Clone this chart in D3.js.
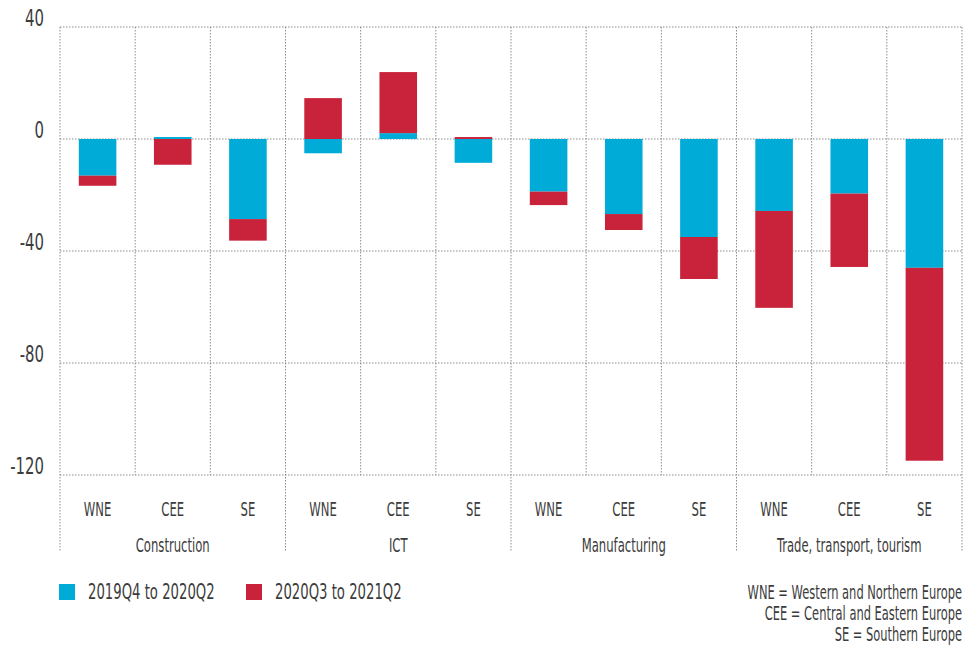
<!DOCTYPE html>
<html>
<head>
<meta charset="utf-8">
<title>Employment change by sector and region</title>
<script src="https://cdn.jsdelivr.net/npm/d3@7"></script>
<style>
  body { margin: 0; background: #fff; }
  svg { display: block; }
  text { font-family: "DejaVu Sans", sans-serif; font-stretch: condensed; fill: #3c3c3c; }
  .grid line { stroke: #8c8c8c; stroke-width: 1; stroke-dasharray: 1.5,1.5; }
</style>
</head>
<body>
<svg id="chart" width="963" height="645"></svg>
<script>
// sectors and regions
var sectors = ["Construction", "ICT", "Manufacturing", "Trade, transport, tourism"];
var regions = ["WNE", "CEE", "SE"];
var seriesNames = ["2019Q4 to 2020Q2", "2020Q3 to 2021Q2"];
var seriesColors = ["#00acd7", "#c8233a"];

// values per sector, in region order WNE, CEE, SE
var firstPeriod  = [-13.1, 0.7, -28.6,   -5.1, 2.1, -8.5,   -18.8, -26.8, -35.0,   -25.7, -19.5, -46.0];
var secondPeriod = [-3.6, -9.2, -7.7,    14.6, 21.8, 0.7,   -4.8, -5.7, -15.0,     -34.6, -26.2, -68.9];

var yTicks = [40, 0, -40, -80, -120];
var notes = ["WNE = Western and Northern Europe", "CEE = Central and Eastern Europe", "SE = Southern Europe"];

var svg = d3.select("#chart");
var plotL = 60, plotR = 962, plotT = 27, plotB = 475;

// the original uses a very narrow font, so squeeze the glyphs
function squeeze(sel, k) {
  sel.each(function() {
    var w = this.getComputedTextLength();
    d3.select(this).attr("textLength", w * k).attr("lengthAdjust", "spacingAndGlyphs");
  });
}

// build rows for stacking
var rows = [];
sectors.forEach(function(s, i) {
  regions.forEach(function(r, j) {
    var k = i * 3 + j;
    rows.push({sector: s, region: r, a: firstPeriod[k], b: secondPeriod[k]});
  });
});

var xGroup = d3.scaleBand().domain(sectors).range([plotL, plotR]);
var xInner = d3.scaleBand().domain(regions).range([0, xGroup.bandwidth()]).paddingInner(0.5).paddingOuter(0.25);
var y = d3.scaleLinear().domain([-120, 40]).range([plotB, plotT]);

// grid
var grid = svg.append("g").attr("class", "grid");
grid.selectAll(".h").data(yTicks).enter().append("line")
  .attr("x1", plotL).attr("x2", plotR)
  .attr("y1", function(d) { return y(d); }).attr("y2", function(d) { return y(d); });

var step = xInner.step();
var vlines = [];
sectors.forEach(function(s) {
  for (var j = 0; j < 3; j++) vlines.push({x: xGroup(s) + j * step, group: j == 0});
});
vlines.push({x: plotR, group: true});
grid.selectAll(".v").data(vlines).enter().append("line")
  .attr("x1", function(d) { return d.x; }).attr("x2", function(d) { return d.x; })
  .attr("y1", plotT).attr("y2", function(d) { return d.group ? 552 : plotB; });

// stacked bars
var stack = d3.stack().keys(["a", "b"]).offset(d3.stackOffsetDiverging);
var layers = stack(rows);

svg.selectAll(".layer").data(layers).enter().append("g")
  .attr("fill", function(d, i) { return seriesColors[i]; })
  .selectAll("rect").data(function(d) { return d; }).enter().append("rect")
  .attr("x", function(d) { return xGroup(d.data.sector) + xInner(d.data.region); })
  .attr("width", xInner.bandwidth())
  .attr("y", function(d) { return y(Math.max(d[0], d[1])); })
  .attr("height", function(d) { return Math.abs(y(d[0]) - y(d[1])); });

// y axis labels
svg.selectAll(".ytick").data(yTicks).enter().append("text")
  .attr("x", 44).attr("y", function(d) { return y(d) - 1; })
  .attr("text-anchor", "end").style("font-size", "23px")
  .text(function(d) { return d; })
  .call(squeeze, 0.72);

// region labels
svg.selectAll(".rlab").data(rows).enter().append("text")
  .attr("x", function(d) { return xGroup(d.sector) + xInner(d.region) + xInner.bandwidth() / 2; })
  .attr("y", 516).attr("text-anchor", "middle").style("font-size", "19px")
  .text(function(d) { return d.region; })
  .call(squeeze, 0.68);

// sector labels
svg.selectAll(".slab").data(sectors).enter().append("text")
  .attr("x", function(d) { return xGroup(d) + xGroup.bandwidth() / 2; })
  .attr("y", 552).attr("text-anchor", "middle").style("font-size", "19px")
  .text(function(d) { return d; })
  .call(squeeze, 0.68);

// legend
var legX = [59, 246];
seriesNames.forEach(function(n, i) {
  svg.append("rect").attr("x", legX[i]).attr("y", 584).attr("width", 16).attr("height", 16).attr("fill", seriesColors[i]);
  svg.append("text").attr("x", legX[i] + 29).attr("y", 599).style("font-size", "21px").text(n)
    .call(squeeze, 0.7);
});

// notes
svg.selectAll(".note").data(notes).enter().append("text")
  .attr("x", 962).attr("y", function(d, i) { return 599 + i * 21; })
  .attr("text-anchor", "end").style("font-size", "19px")
  .text(function(d) { return d; })
  .call(squeeze, 0.67);
</script>
</body>
</html>
